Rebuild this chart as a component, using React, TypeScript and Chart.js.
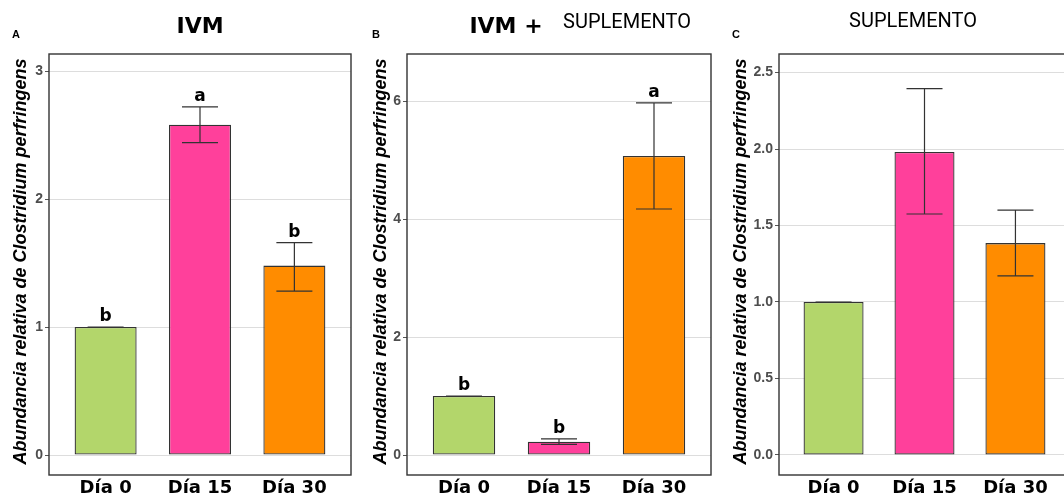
import React, { useEffect, useRef } from 'react';
import { Chart, registerables } from 'chart.js';

Chart.register(...registerables);

// ---------- data ----------
const categories = ['Día 0', 'Día 15', 'Día 30'];
const xPositions = [1, 2, 3];

const ivmMeans = [1.0, 2.58, 1.48];
const ivmLower = [1.0, 2.44, 1.28];
const ivmUpper = [1.0, 2.72, 1.66];
const ivmLetters = ['b', 'a', 'b'];

const ivmSupMeans = [1.0, 0.225, 5.07];
const ivmSupLower = [1.0, 0.18, 4.17];
const ivmSupUpper = [1.0, 0.275, 5.97];
const ivmSupLetters = ['b', 'b', 'a'];

const supMeans = [1.0, 1.98, 1.385];
const supLower = [1.0, 1.575, 1.17];
const supUpper = [1.0, 2.395, 1.6];
const supLetters: string[] = [];

const ticksA = [0, 1, 2, 3];
const ticksB = [0, 2, 4, 6];
const ticksC = [0, 0.5, 1, 1.5, 2, 2.5];

const yAxisTitle = 'Abundancia relativa de Clostridium perfringens';

// ---------- styles ----------
const barColors = ['#b3d66b', '#ff409b', '#ff8c00'];
const inkColor = '#333333';
const gridColor = '#dddddd';
const tickTextColor = '#4d4d4d';

type TitlePart = { text: string; x: number; y: number; font: string };

type PanelSpec = {
  left: number;
  width: number;
  plotLeft: number;
  plotRight: number;
  yMin: number;
  yMax: number;
  ticks: number[];
  decimals: number;
  means: number[];
  lower: number[];
  upper: number[];
  letters: string[];
  tag: string;
  titles: TitlePart[];
  barPct: number;
};

const panels: PanelSpec[] = [
  {
    left: 0, width: 360, plotLeft: 49, plotRight: 351,
    yMin: -0.156, yMax: 3.133, ticks: ticksA, decimals: 0,
    means: ivmMeans, lower: ivmLower, upper: ivmUpper, letters: ivmLetters,
    tag: 'A',
    titles: [{ text: 'IVM', x: 200, y: 33, font: 'bold 22px "DejaVu Sans"' }],
    barPct: 0.657,
  },
  {
    left: 360, width: 360, plotLeft: 47, plotRight: 351,
    yMin: -0.339, yMax: 6.797, ticks: ticksB, decimals: 0,
    means: ivmSupMeans, lower: ivmSupLower, upper: ivmSupUpper, letters: ivmSupLetters,
    tag: 'B',
    titles: [
      { text: 'IVM +', x: 146, y: 33, font: 'bold 22px "DejaVu Sans"' },
      { text: 'SUPLEMENTO', x: 267, y: 28, font: '20px Roboto' },
    ],
    barPct: 0.657,
  },
  {
    left: 720, width: 360, plotLeft: 59, plotRight: 350,
    yMin: -0.131, yMax: 2.621, ticks: ticksC, decimals: 1,
    means: supMeans, lower: supLower, upper: supUpper, letters: supLetters,
    tag: 'C',
    titles: [{ text: 'SUPLEMENTO', x: 193, y: 27, font: '20px Roboto' }],
    barPct: 0.66,
  },
];

function Panel({ spec }: { spec: PanelSpec }) {
  const ref = useRef<HTMLCanvasElement | null>(null);

  useEffect(() => {
    const canvas = ref.current;
    if (!canvas) return;

    const decor = {
      id: 'decor',
      afterDatasetsDraw(chart: any) {
        const ctx = chart.ctx;
        const ys = chart.scales.y;
        const meta = chart.getDatasetMeta(0);
        ctx.save();
        // error bars
        ctx.strokeStyle = inkColor;
        ctx.lineWidth = 1.2;
        spec.means.forEach((_, i) => {
          const bar = meta.data[i];
          const x = bar.x;
          const yt = ys.getPixelForValue(spec.upper[i]);
          const yb = ys.getPixelForValue(spec.lower[i]);
          const half = 18;
          ctx.beginPath();
          ctx.moveTo(x, yt);
          ctx.lineTo(x, yb);
          ctx.moveTo(x - half, yt);
          ctx.lineTo(x + half, yt);
          ctx.moveTo(x - half, yb);
          ctx.lineTo(x + half, yb);
          ctx.stroke();
        });
        // significance letters
        ctx.fillStyle = '#000';
        ctx.font = 'bold 17px "DejaVu Sans"';
        ctx.textAlign = 'center';
        ctx.textBaseline = 'alphabetic';
        spec.letters.forEach((l, i) => {
          const x = meta.data[i].x;
          const top = ys.getPixelForValue(Math.max(spec.upper[i], spec.means[i]));
          ctx.fillText(l, x, top - 6);
        });
        ctx.restore();
      },
      afterDraw(chart: any) {
        const ctx = chart.ctx;
        const a = chart.chartArea;
        ctx.save();
        // panel frame
        ctx.strokeStyle = inkColor;
        ctx.lineWidth = 1.4;
        ctx.strokeRect(a.left, a.top, a.right - a.left, a.bottom - a.top);
        // tag letter
        ctx.fillStyle = '#000';
        ctx.font = 'bold 11px "Liberation Sans"';
        ctx.textAlign = 'left';
        ctx.textBaseline = 'alphabetic';
        ctx.fillText(spec.tag, 12, 38);
        // titles
        ctx.textAlign = 'center';
        spec.titles.forEach((t) => {
          ctx.font = t.font;
          ctx.fillText(t.text, t.x, t.y);
        });
        // y axis title
        ctx.translate(21, (a.top + a.bottom) / 2 - 3);
        ctx.rotate(-Math.PI / 2);
        ctx.font = 'italic bold 18px "Liberation Sans"';
        ctx.textBaseline = 'middle';
        ctx.fillText(yAxisTitle, 0, 0);
        ctx.restore();
      },
    };

    const chart = new Chart(canvas, {
      type: 'bar',
      data: {
        datasets: [
          {
            data: xPositions.map((x, i) => ({ x, y: spec.means[i] })),
            backgroundColor: barColors,
            borderColor: inkColor,
            borderWidth: 1.3,
            borderSkipped: false,
            barPercentage: spec.barPct,
            categoryPercentage: 1,
          },
        ],
      },
      options: {
        responsive: false,
        animation: false,
        devicePixelRatio: 1,
        layout: { padding: { left: 0, right: spec.width - spec.plotRight, top: 54, bottom: 0 } },
        plugins: { legend: { display: false }, tooltip: { enabled: false }, title: { display: false } },
        scales: {
          x: {
            type: 'linear',
            min: 0.4,
            max: 3.6,
            offset: false,
            grid: { display: false, drawTicks: false },
            border: { display: false },
            afterBuildTicks: (s: any) => {
              s.ticks = xPositions.map((v) => ({ value: v }));
            },
            afterFit: (s: any) => {
              s.height = 23;
            },
            ticks: {
              autoSkip: false,
              maxRotation: 0,
              padding: 3,
              color: '#000',
              font: { family: '"DejaVu Sans"', weight: 'bold', size: 18 },
              callback: (v: any) => categories[xPositions.indexOf(Number(v))] ?? '',
            },
          },
          y: {
            min: spec.yMin,
            max: spec.yMax,
            grid: { color: gridColor, lineWidth: 1, drawTicks: true, tickLength: 4, tickColor: '#555' },
            border: { display: false },
            afterBuildTicks: (s: any) => {
              s.ticks = spec.ticks.map((v) => ({ value: v }));
            },
            afterFit: (s: any) => {
              s.width = spec.plotLeft;
            },
            ticks: {
              padding: 2,
              color: tickTextColor,
              font: { family: '"Liberation Sans"', weight: 'bold', size: 14 },
              callback: (v: any) => Number(v).toFixed(spec.decimals),
            },
          },
        },
      },
      plugins: [decor],
    } as any);

    return () => chart.destroy();
  }, [spec]);

  return (
    <canvas
      ref={ref}
      width={spec.width}
      height={498}
      style={{ position: 'absolute', left: spec.left, top: 0, width: spec.width, height: 498 }}
    />
  );
}

export default function App() {
  return (
    <div
      style={{
        position: 'fixed',
        left: 0,
        top: 0,
        width: 1064,
        height: 498,
        overflow: 'hidden',
        background: '#fff',
      }}
    >
      {panels.map((p) => (
        <Panel key={p.tag} spec={p} />
      ))}
    </div>
  );
}
